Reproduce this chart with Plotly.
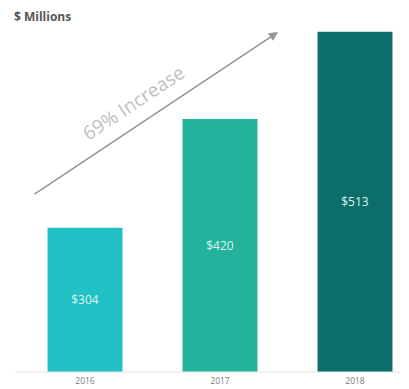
import plotly.graph_objects as go

# Revenue by year, in $ millions
years = ["2016", "2017", "2018"]
revenue = [304, 420, 513]
bar_colors = ["#21c0c4", "#23b39a", "#0b6e6a"]
growth_label = "69% Increase"

W, H = 409, 389
PH = H - 17            # plot-area height
y_floor = 150          # value axis starts above zero
y_ceiling = 547

# bars start at the axis floor so the inside labels sit in the visible part
fig = go.Figure()
fig.add_trace(go.Bar(
    x=[0, 1, 2],
    y=[v - y_floor for v in revenue],
    base=y_floor,
    width=0.555,
    marker=dict(color=bar_colors, line=dict(width=0)),
    text=[f"${v}" for v in revenue],
    textposition="inside",
    insidetextanchor="middle",
    textangle=0,
    textfont=dict(family="Open Sans", size=12, color="#def5f4"),
    hoverinfo="skip",
))

fig.update_layout(
    width=W, height=H,
    margin=dict(l=0, r=0, t=0, b=17),
    paper_bgcolor="white",
    plot_bgcolor="white",
    showlegend=False,
    xaxis=dict(
        tickmode="array",
        tickvals=[0, 1, 2],
        ticktext=years,
        range=[-85 / 135, -85 / 135 + W / 135],
        showgrid=False, zeroline=False, showline=False,
        ticks="",
        tickfont=dict(family="Open Sans", size=8.5, color="#7a7a7a"),
        ticklabelstandoff=2,
    ),
    yaxis=dict(
        range=[y_floor, y_ceiling],
        visible=False,
        showgrid=False, zeroline=False,
    ),
)

# light baseline under the bars
fig.add_shape(
    type="line", xref="paper", yref="paper",
    x0=15 / W, x1=400 / W, y0=0, y1=0,
    line=dict(color="#e6e6e6", width=1),
)

# units caption
fig.add_annotation(
    xref="paper", yref="paper",
    x=12 / W, y=1 - 17 / PH, xanchor="left", yanchor="middle",
    text="<b>$ Millions</b>", showarrow=False,
    font=dict(family="Open Sans", size=12, color="#555555"),
)

# growth arrow
fig.add_annotation(
    xref="x domain", yref="y domain",
    x=278 / W, y=1 - 32 / PH,
    ax=33 / W, ay=1 - 195 / PH,
    axref="x domain", ayref="y domain",
    text="", showarrow=True,
    arrowhead=2, arrowsize=1.2, arrowwidth=1.5, arrowcolor="#949494",
)

# growth label along the arrow
fig.add_annotation(
    xref="paper", yref="paper",
    x=133 / W, y=1 - 103 / PH, xanchor="center", yanchor="middle",
    text=growth_label, showarrow=False, textangle=-33.6,
    font=dict(family="Open Sans", size=19, color="#c0c0c0"),
)

fig.write_html("out.html")
